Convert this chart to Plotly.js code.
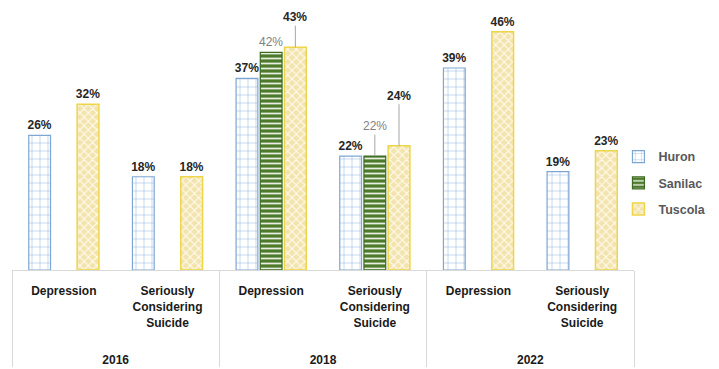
<!DOCTYPE html>
<html><head><meta charset="utf-8">
<script src="https://cdn.plot.ly/plotly-3.0.1.min.js"></script>
<style>html,body{margin:0;padding:0;background:#fff}#c{width:719px;height:369px}</style>
</head><body><div id="c"></div>
<script>
const years = ["2016","2016","2018","2018","2022","2022"];
const measures = ["Depression","Seriously<br>Considering<br>Suicide","Depression","Seriously<br>Considering<br>Suicide","Depression","Seriously<br>Considering<br>Suicide"];
const huron   = [26, 18, 37, 22, 39, 19];
const sanilac = [null, null, 42, 22, null, null];
const tuscola = [32, 18, 43, 24, 46, 23];
// labels lifted with a leader line: [series, category index, pixel lift]
const lifted = [["Tuscola",2,-30],["Sanilac",3,-30],["Tuscola",3,-50]];

const BARGAP = 0.3, NSER = 3;
const slot = (1 - BARGAP) / NSER;
const seriesOffset = {Huron: -slot, Sanilac: 0, Tuscola: slot};

function labels(name, vals){
  return vals.map((v,i)=>{
    if (v==null) return "";
    if (lifted.some(l=>l[0]===name && l[1]===i)) return "";
    return v + "%";
  });
}
const FAM = "Liberation Sans, Arial, sans-serif";
const boldFont = {family:FAM, size:12, color:"#262626", weight:"bold"};
const grayFont = {family:FAM, size:12, color:"#7f7f7f"};

const x = [years.map(y=>"<br><br>"+y), measures];
const traces = [
  {type:"bar", name:"Huron", x:x, y:huron, legendgroup:"a",
   text:labels("Huron",huron), textposition:"outside", outsidetextfont:boldFont, constraintext:"none", cliponaxis:false,
   marker:{color:"#ffffff", line:{color:"#7ea6d3", width:1.2},
     pattern:{shape:"+", fgcolor:"#8fb4de", bgcolor:"#ffffff", size:8, solidity:0.12}}},
  {type:"bar", name:"Sanilac", x:x, y:sanilac, legendgroup:"b",
   text:labels("Sanilac",sanilac), textposition:"outside", outsidetextfont:grayFont, constraintext:"none", cliponaxis:false,
   marker:{color:"#4e7a2c", line:{color:"#3d6a22", width:1.2},
     pattern:{shape:"-", fgcolor:"#e9f0e2", bgcolor:"#4e7a2c", size:5, solidity:0.35}}},
  {type:"bar", name:"Tuscola", x:x, y:tuscola, legendgroup:"c",
   text:labels("Tuscola",tuscola), textposition:"outside", outsidetextfont:boldFont, constraintext:"none", cliponaxis:false,
   marker:{color:"#f5e8b4", line:{color:"#eed64a", width:1.5},
     pattern:{shape:"x", fgcolor:"#fffdf4", bgcolor:"#f3e4ad", size:6, solidity:0.3}}}
];
const series = {Huron:huron, Sanilac:sanilac, Tuscola:tuscola};
const annotations = lifted.map(([name,i,lift])=>({
  x: i + seriesOffset[name], y: series[name][i], xref:"x", yref:"y",
  text: series[name][i] + "%", showarrow:true, arrowhead:0, arrowwidth:1, arrowcolor:"#a6a6a6",
  ax:0, ay:lift, standoff:0,
  font: name==="Sanilac" ? grayFont : boldFont
}));

const layout = {
  width:719, height:369,
  margin:{l:12, r:85, t:11, b:99, autoexpand:false},
  paper_bgcolor:"#ffffff", plot_bgcolor:"#ffffff",
  barmode:"group", bargap:BARGAP, bargroupgap:0.1,
  font:{family:FAM, size:12, color:"#000000"},
  xaxis:{type:"multicategory", showline:true, linecolor:"#d9d9d9", linewidth:1,
    showdividers:true, dividercolor:"#d9d9d9", dividerwidth:1,
    ticks:"", ticklabelstandoff:10,
    tickfont:{family:FAM, size:12, color:"#1a1a1a", weight:"bold"}},
  yaxis:{range:[0,50], visible:false, showgrid:false, zeroline:false},
  showlegend:true,
  legend:{x:0.975, xanchor:"left", y:0.336, yanchor:"middle", traceorder:"grouped", tracegroupgap:7,
    font:{family:FAM, size:12.5, color:"#595959", weight:"bold"}, itemwidth:30},
  annotations:annotations
};
Plotly.newPlot("c", traces, layout, {displayModeBar:false, staticPlot:true});
</script></body></html>
